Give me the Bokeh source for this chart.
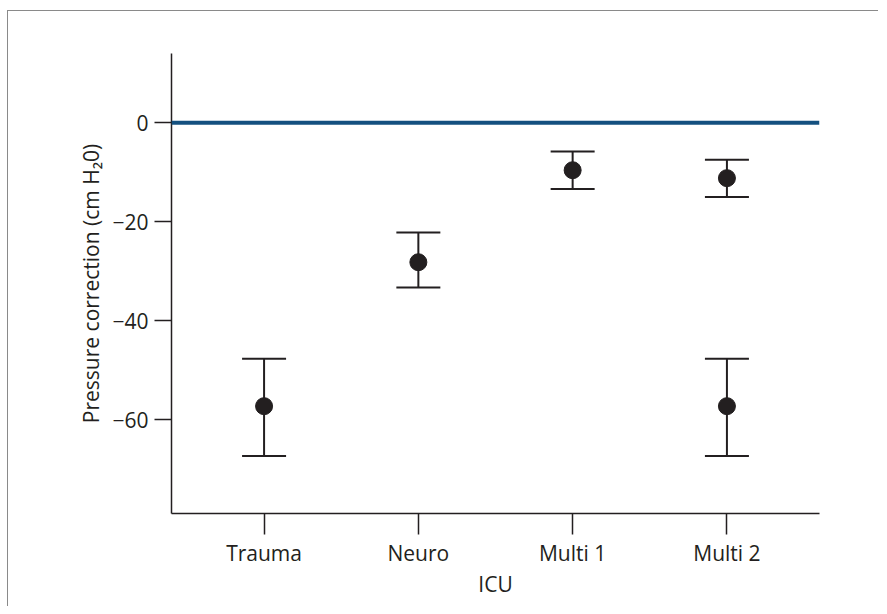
from bokeh.plotting import figure
from bokeh.models import ColumnDataSource, Whisker, TeeHead, Span, FixedTicker, Range1d
from bokeh.embed import file_html
from bokeh.resources import INLINE

# ---- data ----
categories = ["Trauma", "Neuro", "Multi 1", "Multi 2"]
point_category = ["Trauma", "Neuro", "Multi 1", "Multi 2", "Multi 2"]
point_mean = [-57.3, -28.2, -9.6, -11.2, -57.3]
point_upper = [-47.7, -22.2, -5.8, -7.5, -47.7]
point_lower = [-67.4, -33.3, -13.4, -15.0, -67.4]
y_ticks = [0, -20, -40, -60]
reference_level = 0

INK = "#231f20"
BLUE = "#14507f"
FONT = "Open Sans"

xpos = [categories.index(c) + 1 for c in point_category]
src = ColumnDataSource(dict(x=xpos, y=point_mean, upper=point_upper, lower=point_lower))

p = figure(width=871, height=596, output_backend="svg", toolbar_location=None,
           x_range=Range1d(0.4, 4.6), y_range=Range1d(-79, 14),
           min_border_left=163, min_border_right=60, min_border_top=42, min_border_bottom=94)
p.styles = {"border-left": "1px solid #8a8a8a", "border-top": "1px solid #8a8a8a",
            "margin-top": "10px", "margin-left": "7px"}
p.outline_line_color = None
p.xgrid.visible = False
p.ygrid.visible = False
p.background_fill_color = "white"
p.border_fill_color = "white"

p.add_layout(Span(location=reference_level, dimension="width", line_color=BLUE, line_width=4))

w = Whisker(source=src, base="x", upper="upper", lower="lower", line_color=INK, line_width=2,
            upper_head=TeeHead(size=44, line_color=INK, line_width=2),
            lower_head=TeeHead(size=44, line_color=INK, line_width=2))
p.add_layout(w)
p.scatter("x", "y", source=src, size=17, fill_color=INK, line_color=INK)

# axes
p.xaxis.ticker = FixedTicker(ticks=[1, 2, 3, 4])
p.xaxis.major_label_overrides = {i + 1: c for i, c in enumerate(categories)}
p.yaxis.ticker = FixedTicker(ticks=y_ticks)
p.yaxis.major_label_overrides = {t: (str(t).replace("-", "\u2212")) for t in y_ticks}

for ax in (p.xaxis[0], p.yaxis[0]):
    ax.axis_line_color = INK
    ax.axis_line_width = 1.5
    ax.major_tick_line_color = INK
    ax.major_tick_line_width = 1.5
    ax.major_tick_in = 0
    ax.minor_tick_line_color = None
    ax.major_label_text_font = FONT
    ax.major_label_text_font_size = "21px"
    ax.major_label_text_color = INK
    ax.axis_label_text_font = FONT
    ax.axis_label_text_font_size = "21px"
    ax.axis_label_text_font_style = "normal"
    ax.axis_label_text_color = INK

p.xaxis.major_tick_out = 21
p.yaxis.major_tick_out = 17
p.xaxis.major_label_standoff = 4
p.yaxis.major_label_standoff = 6
p.xaxis.axis_label = "ICU"
p.yaxis.axis_label = "Pressure correction (cm H\u20820)"
p.xaxis.axis_label_standoff = 0
p.yaxis.axis_label_standoff = 4

open("out.html", "w").write(file_html(p, INLINE))
